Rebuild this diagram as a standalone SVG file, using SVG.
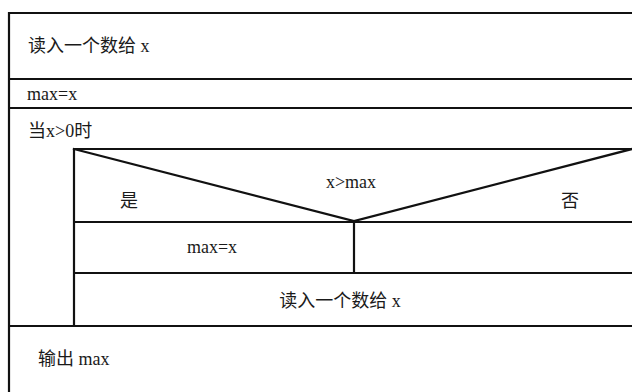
<svg xmlns="http://www.w3.org/2000/svg" width="632" height="392" viewBox="0 0 632 392">
<style>
.ln{stroke:#111;stroke-width:2.2;fill:none;stroke-linecap:square}
.t{font-family:"Liberation Serif","Noto Sans CJK SC",serif;font-size:18px;fill:#1a1a1a}
.c{text-anchor:middle}
</style>
<rect width="632" height="392" fill="#fff"/>
<g id="connectors">
<path class="ln" d="M9,13 H640 M9,13 V400 M9,79 H640 M9,108 H640 M74,149 H640 M74,149 V326 M74,222 H640 M354,222 V273 M74,273 H640 M9,326 H640"/>
<path class="ln" d="M74,149 L354,221 L632,149" stroke-linejoin="miter"/>
</g>
<g id="n1"><text class="t" x="28" y="52">读入一个数给 x</text></g>
<g id="n2"><text class="t" x="27" y="100">max=x</text></g>
<g id="n3"><text class="t" x="28" y="137">当x&gt;0时</text></g>
<g id="n4"><text class="t c" x="351" y="188">x&gt;max</text><text class="t" x="120" y="207">是</text><text class="t" x="561" y="207">否</text></g>
<g id="n5"><text class="t c" x="212" y="253">max=x</text></g>
<g id="n6"><text class="t c" x="340" y="307">读入一个数给 x</text></g>
<g id="n7"><text class="t" x="38" y="365">输出 max</text></g>
</svg>
